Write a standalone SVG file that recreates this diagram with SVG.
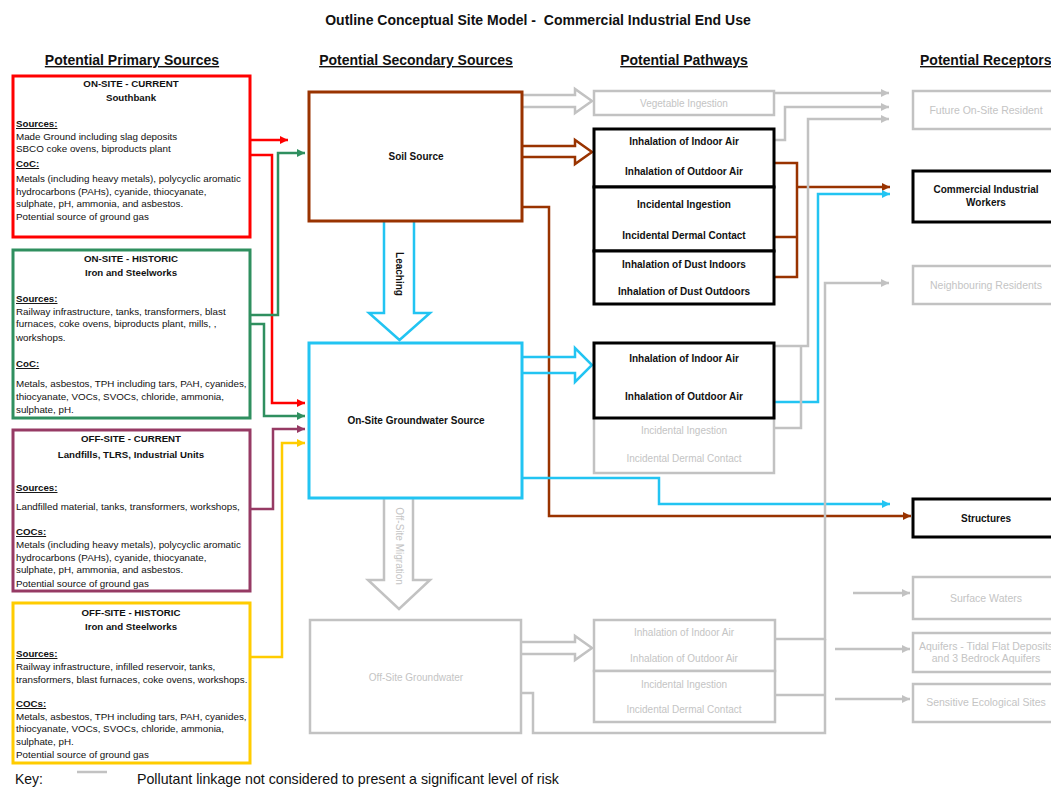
<svg xmlns="http://www.w3.org/2000/svg" width="1051" height="787" viewBox="0 0 1051 787">
<style>
text{font-family:"Liberation Sans",Arial,sans-serif;fill:#111}
.t{font-size:14px;font-weight:bold;text-anchor:middle}
.h{font-size:14px;font-weight:bold;text-decoration:underline;text-anchor:middle}
.b{font-size:9.8px}
.bh{font-size:9.7px;font-weight:bold;text-anchor:middle}
.bu{font-size:9.7px;font-weight:bold;text-decoration:underline}
.p{font-size:10px;font-weight:bold;text-anchor:middle}
.g{font-size:10px;text-anchor:middle;fill:#c4c4c4}
.gr{font-size:10.5px;text-anchor:middle;fill:#c4c4c4}
.box{fill:#fff;stroke-width:3}
.blk{fill:#fff;stroke:#000;stroke-width:3}
.gb{fill:#fff;stroke:#c2c2c2;stroke-width:2.5}
.ln{fill:none;stroke-width:2.5}
.gl{fill:none;stroke:#c2c2c2;stroke-width:2.5}
.red{stroke:#ff0000}.grn{stroke:#2f8f5f}.pur{stroke:#963a64}.yel{stroke:#ffcc00}.brn{stroke:#993300}.cya{stroke:#22c4f2}
</style>
<defs>
<marker id="mR" viewBox="0 0 10 10" refX="10" refY="5" markerWidth="9" markerHeight="8" markerUnits="userSpaceOnUse" orient="auto"><path d="M0,0L10,5L0,10z" fill="#ff0000"/></marker>
<marker id="mG" viewBox="0 0 10 10" refX="10" refY="5" markerWidth="9" markerHeight="8" markerUnits="userSpaceOnUse" orient="auto"><path d="M0,0L10,5L0,10z" fill="#2f8f5f"/></marker>
<marker id="mP" viewBox="0 0 10 10" refX="10" refY="5" markerWidth="9" markerHeight="8" markerUnits="userSpaceOnUse" orient="auto"><path d="M0,0L10,5L0,10z" fill="#963a64"/></marker>
<marker id="mY" viewBox="0 0 10 10" refX="10" refY="5" markerWidth="9" markerHeight="8" markerUnits="userSpaceOnUse" orient="auto"><path d="M0,0L10,5L0,10z" fill="#ffcc00"/></marker>
<marker id="mB" viewBox="0 0 10 10" refX="10" refY="5" markerWidth="9" markerHeight="8" markerUnits="userSpaceOnUse" orient="auto"><path d="M0,0L10,5L0,10z" fill="#993300"/></marker>
<marker id="mC" viewBox="0 0 10 10" refX="10" refY="5" markerWidth="9" markerHeight="8" markerUnits="userSpaceOnUse" orient="auto"><path d="M0,0L10,5L0,10z" fill="#22c4f2"/></marker>
<marker id="mX" viewBox="0 0 10 10" refX="10" refY="5" markerWidth="9" markerHeight="8" markerUnits="userSpaceOnUse" orient="auto"><path d="M0,0L10,5L0,10z" fill="#c2c2c2"/></marker>
</defs>
<rect width="1051" height="787" fill="#fff"/>

<text class="t" x="538" y="25">Outline Conceptual Site Model - &#160;Commercial Industrial End Use</text>
<text class="h" x="132" y="65">Potential Primary Sources</text>
<text class="h" x="416" y="65">Potential Secondary Sources</text>
<text class="h" x="684" y="65">Potential Pathways</text>
<text class="h" x="920" y="65" style="text-anchor:start">Potential Receptors</text>

<g id="connectors">
<path class="ln red" d="M250,140H288" marker-end="url(#mR)"/>
<path class="ln red" d="M250,155H272V403H305" marker-end="url(#mR)"/>
<path class="ln grn" d="M250,315H278V153H305" marker-end="url(#mG)"/>
<path class="ln grn" d="M250,324H264V416H305" marker-end="url(#mG)"/>
<path class="ln pur" d="M250,509H273V429H305" marker-end="url(#mP)"/>
<path class="ln yel" d="M250,657H282V443H305" marker-end="url(#mY)"/>
<path class="gl" d="M522,95H575V89L592,101L575,113V107H522"/>
<path class="ln brn" d="M522,146H575V140L592,152L575,164V157H522"/>
<path class="ln brn" d="M523,207H549V516H911" marker-end="url(#mB)"/>
<path class="ln cya" d="M384,222V313H369L399.5,340L430,313H414V222"/>
<path class="ln cya" d="M522,357H575V348L592,365L575,382V373H522"/>
<path class="ln cya" d="M522,478H659V504H890" marker-end="url(#mC)"/>
<path class="gl" d="M384,498V580H368L399,609L430,580H413V498"/>
<path class="gl" d="M522,642H575V636L592,648L575,660V654H522"/>
<path class="ln brn" d="M775,163H797V277H775M775,237H797M797,187H890" marker-end="url(#mB)"/>
<path class="ln cya" d="M775,402H818V194H890" marker-end="url(#mC)"/>
<path class="gl" d="M773,93H889" marker-end="url(#mX)"/>
<path class="gl" d="M775,140H785V107H889" marker-end="url(#mX)"/>
<path class="gl" d="M775,346H808V119H889" marker-end="url(#mX)"/>
<path class="gl" d="M775,428H801V346"/>
<path class="gl" d="M775,639H825V283H889" marker-end="url(#mX)"/>
<path class="gl" d="M775,695H825"/>
<path class="gl" d="M521,693H533V733H825V639"/>
<path class="gl" d="M853,593H910" marker-end="url(#mX)"/>
<path class="gl" d="M835,649H910" marker-end="url(#mX)"/>
<path class="gl" d="M835,699H910" marker-end="url(#mX)"/>
</g>

<g id="src-onsite-current">
<rect class="box red" x="13" y="76" width="237" height="161"/>
<text class="bh" x="131" y="87">ON-SITE - CURRENT</text>
<text class="bh" x="131" y="101">Southbank</text>
<text class="bu" x="16" y="127">Sources:</text>
<text class="b" x="16" y="140">Made Ground including slag deposits</text>
<text class="b" x="16" y="152">SBCO coke ovens, biproducts plant</text>
<text class="bu" x="16" y="167">CoC:</text>
<text class="b" x="16" y="182">Metals (including heavy metals), polycyclic aromatic</text>
<text class="b" x="16" y="195">hydrocarbons (PAHs), cyanide, thiocyanate,</text>
<text class="b" x="16" y="207">sulphate, pH, ammonia, and asbestos.</text>
<text class="b" x="16" y="220">Potential source of ground gas</text>
</g>

<g id="src-onsite-historic">
<rect class="box grn" x="13" y="250" width="237" height="168"/>
<text class="bh" x="131" y="262">ON-SITE - HISTORIC</text>
<text class="bh" x="131" y="276">Iron and Steelworks</text>
<text class="bu" x="16" y="302">Sources:</text>
<text class="b" x="16" y="315">Railway infrastructure, tanks, transformers, blast</text>
<text class="b" x="16" y="327">furnaces, coke ovens, biproducts plant, mills, ,</text>
<text class="b" x="16" y="341">workshops.</text>
<text class="bu" x="16" y="367">CoC:</text>
<text class="b" x="16" y="387">Metals, asbestos, TPH including tars, PAH, cyanides,</text>
<text class="b" x="16" y="400">thiocyanate, VOCs, SVOCs, chloride, ammonia,</text>
<text class="b" x="16" y="413">sulphate, pH.</text>
</g>

<g id="src-offsite-current">
<rect class="box pur" x="13" y="430" width="237" height="161"/>
<text class="bh" x="131" y="442">OFF-SITE - CURRENT</text>
<text class="bh" x="131" y="458">Landfills, TLRS, Industrial Units</text>
<text class="bu" x="16" y="491">Sources:</text>
<text class="b" x="16" y="510">Landfilled material, tanks, transformers, workshops,</text>
<text class="bu" x="16" y="535">COCs:</text>
<text class="b" x="16" y="548">Metals (including heavy metals), polycyclic aromatic</text>
<text class="b" x="16" y="561">hydrocarbons (PAHs), cyanide, thiocyanate,</text>
<text class="b" x="16" y="573">sulphate, pH, ammonia, and asbestos.</text>
<text class="b" x="16" y="587">Potential source of ground gas</text>
</g>

<g id="src-offsite-historic">
<rect class="box yel" x="13" y="603" width="237" height="160"/>
<text class="bh" x="131" y="616">OFF-SITE - HISTORIC</text>
<text class="bh" x="131" y="630">Iron and Steelworks</text>
<text class="bu" x="16" y="657">Sources:</text>
<text class="b" x="16" y="670">Railway infrastructure, infilled reservoir, tanks,</text>
<text class="b" x="16" y="683">transformers, blast furnaces, coke ovens, workshops.</text>
<text class="bu" x="16" y="707">COCs:</text>
<text class="b" x="16" y="720">Metals, asbestos, TPH including tars, PAH, cyanides,</text>
<text class="b" x="16" y="732">thiocyanate, VOCs, SVOCs, chloride, ammonia,</text>
<text class="b" x="16" y="745">sulphate, pH.</text>
<text class="b" x="16" y="758">Potential source of ground gas</text>
</g>

<g id="soil-source">
<rect class="box brn" x="309" y="92" width="213" height="129"/>
<text class="p" x="416" y="160">Soil Source</text>
</g>
<g id="leaching-label">
<text class="p" transform="translate(396,274) rotate(90)">Leaching</text>
</g>
<g id="gw-source">
<rect class="box cya" x="309" y="343" width="213" height="155"/>
<text class="p" x="416" y="424">On-Site Groundwater Source</text>
</g>
<g id="offsite-migration-label">
<text class="g" transform="translate(396,546) rotate(90)">Off-Site Migration</text>
</g>
<g id="offsite-gw">
<rect class="gb" x="310" y="620" width="211" height="113"/>
<text class="g" x="416" y="681">Off-Site Groundwater</text>
</g>

<g id="pw-vegetable">
<rect class="gb" x="594" y="91" width="180" height="24"/>
<text class="g" x="684" y="107">Vegetable Ingestion</text>
</g>
<g id="pw-inhalation-air">
<rect class="blk" x="594" y="129" width="180" height="58"/>
<text class="p" x="684" y="145">Inhalation of Indoor Air</text>
<text class="p" x="684" y="175">Inhalation of Outdoor Air</text>
</g>
<g id="pw-incidental">
<rect class="blk" x="594" y="187" width="180" height="64"/>
<text class="p" x="684" y="208">Incidental Ingestion</text>
<text class="p" x="684" y="239">Incidental Dermal Contact</text>
</g>
<g id="pw-dust">
<rect class="blk" x="594" y="251" width="180" height="53"/>
<text class="p" x="684" y="268">Inhalation of Dust Indoors</text>
<text class="p" x="684" y="295">Inhalation of Dust Outdoors</text>
</g>
<g id="pw-gw-incidental">
<rect class="gb" x="594" y="400" width="180" height="73"/>
<text class="g" x="684" y="434">Incidental Ingestion</text>
<text class="g" x="684" y="462">Incidental Dermal Contact</text>
</g>
<g id="pw-gw-inhalation">
<rect class="blk" x="594" y="343" width="180" height="75"/>
<text class="p" x="684" y="362">Inhalation of Indoor Air</text>
<text class="p" x="684" y="400">Inhalation of Outdoor Air</text>
</g>
<g id="pw-off-inhalation">
<rect class="gb" x="594" y="620" width="181" height="51"/>
<text class="g" x="684" y="636">Inhalation of Indoor Air</text>
<text class="g" x="684" y="662">Inhalation of Outdoor Air</text>
</g>
<g id="pw-off-incidental">
<rect class="gb" x="594" y="671" width="181" height="51"/>
<text class="g" x="684" y="688">Incidental Ingestion</text>
<text class="g" x="684" y="713">Incidental Dermal Contact</text>
</g>

<g id="rc-future">
<rect class="gb" x="913" y="91" width="150" height="38"/>
<text class="gr" x="986" y="114">Future On-Site Resident</text>
</g>
<g id="rc-workers">
<rect class="blk" x="913" y="171" width="150" height="51"/>
<text class="p" x="986" y="193">Commercial Industrial</text>
<text class="p" x="986" y="206">Workers</text>
</g>
<g id="rc-neighbours">
<rect class="gb" x="913" y="266" width="150" height="38"/>
<text class="gr" x="986" y="289">Neighbouring Residents</text>
</g>
<g id="rc-structures">
<rect class="blk" x="913" y="499" width="150" height="38"/>
<text class="p" x="986" y="522">Structures</text>
</g>
<g id="rc-surface">
<rect class="gb" x="913" y="577" width="150" height="42"/>
<text class="gr" x="986" y="602">Surface Waters</text>
</g>
<g id="rc-aquifers">
<rect class="gb" x="913" y="633" width="150" height="39"/>
<text class="gr" x="986" y="650">Aquifers - Tidal Flat Deposits</text>
<text class="gr" x="986" y="662">and 3 Bedrock Aquifers</text>
</g>
<g id="rc-ecological">
<rect class="gb" x="913" y="684" width="150" height="38"/>
<text class="gr" x="986" y="706">Sensitive Ecological Sites</text>
</g>

<g id="key">
<text x="15" y="784" style="font-size:14px">Key:</text>
<line x1="77" y1="772" x2="107" y2="772" stroke="#c2c2c2" stroke-width="2.5"/>
<text x="137" y="784" style="font-size:14.2px">Pollutant linkage not considered to present a significant level of risk</text>
</g>
</svg>
